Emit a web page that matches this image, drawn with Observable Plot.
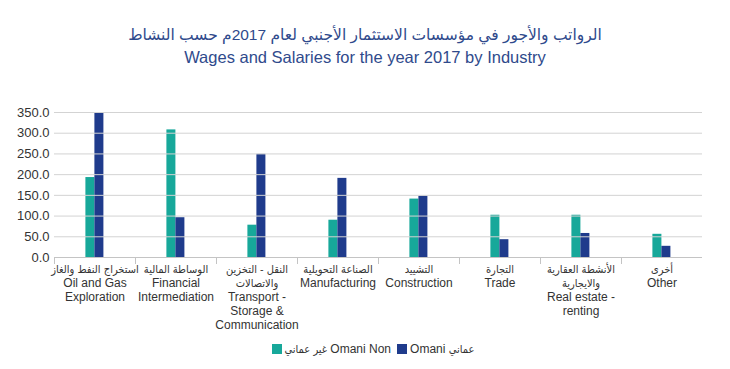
<!DOCTYPE html>
<html>
<head>
<meta charset="utf-8">
<script src="https://cdn.jsdelivr.net/npm/d3@7"></script>
<script src="https://cdn.jsdelivr.net/npm/@observablehq/plot@0.6"></script>
<style>
  body { margin:0; background:#fff; font-family:"Liberation Sans", Arial, "DejaVu Sans", sans-serif; }
  #wrap { position:relative; width:730px; height:369px; overflow:hidden; }
  .t1 { position:absolute; top:24px; left:0; width:730px; text-align:center; font-size:15.5px; line-height:22px; color:#2f4a8c; }
  .t2 { position:absolute; top:47px; left:0; width:730px; text-align:center; font-size:16.5px; line-height:20px; color:#2f4a8c; }
  #chart { position:absolute; top:80px; left:0; }
  #legend { position:absolute; top:340px; left:0; width:730px; text-align:center; font-size:12px; line-height:18px; color:#333; padding-left:22px; box-sizing:border-box; }
  .ar { font-family:"DejaVu Sans Condensed", "DejaVu Sans", sans-serif; font-size:11px; }
  .sw { display:inline-block; width:10px; height:10px; vertical-align:-1px; margin-right:3px; }
</style>
</head>
<body>
<div id="wrap">
  <div class="t1">الرواتب والأجور في مؤسسات الاستثمار الأجنبي لعام 2017م حسب النشاط</div>
  <div class="t2">Wages and Salaries for the year 2017 by Industry</div>
  <div id="chart"></div>
  <div id="legend"></div>
</div>
<script>
const categories = ["Oil and Gas Exploration","Financial Intermediation","Transport - Storage & Communication","Manufacturing","Construction","Trade","Real estate - renting","Other"];
const arLabels = ["استخراج النفط والغاز","الوساطة المالية","النقل - التخزين\nوالاتصالات","الصناعة التحويلية","التشييد","التجارة","الأنشطة العقارية\nوالايجارية","أخرى"];
const enLabels = ["Oil and Gas\nExploration","Financial\nIntermediation","Transport -\nStorage &\nCommunication","Manufacturing","Construction","Trade","Real estate -\nrenting","Other"];
const seriesNames = ["Omani Non","Omani"];
const seriesLegendAr = ["غير عماني", "عماني"];
const seriesLegendEn = ["Omani Non", "Omani"];
const nonOmani = [193, 308, 78, 90, 141, 102, 102, 56];
const omani = [350, 96, 249, 191, 148, 43, 58, 27];
const yTicks = [0, 50, 100, 150, 200, 250, 300, 350];
const colors = ["#17a89a", "#1f3b8c"];

const table = categories.flatMap((c, i) => [
  {cat: c, series: seriesNames[0], value: nonOmani[i]},
  {cat: c, series: seriesNames[1], value: omani[i]}
]);

const arFont = '"DejaVu Sans Condensed", "DejaVu Sans", sans-serif';
const enFont = '"Liberation Sans", Arial, sans-serif';

const chart = Plot.plot({
  width: 730,
  height: 260,
  marginTop: 32,
  marginBottom: 83,
  marginLeft: 52.6,
  marginRight: 27,
  style: {fontFamily: enFont, color: "#333", background: "transparent"},
  fx: {domain: categories, padding: 0, label: null, axis: null},
  x: {domain: seriesNames, paddingInner: 0, paddingOuter: 3.37, axis: null},
  y: {domain: [0, 350], label: null, axis: null},
  color: {domain: seriesNames, range: colors},
  marks: [
    Plot.barY(table, {fx: "cat", x: "series", y: "value", fill: "series"}),
    Plot.gridY(yTicks, {stroke: "#d3d3d3", strokeOpacity: 1}),
    Plot.ruleY([0], {stroke: "#c4c4c4"}),
    Plot.frame({anchor: "left", insetTop: 145, insetBottom: -6, stroke: "#c4c4c4", strokeOpacity: 1}),
    Plot.axisY(yTicks, {tickSize: 0, tickPadding: 5, tickFormat: d3.format(".1f"), fontSize: 13, label: null}),
    Plot.axisFx({anchor: "bottom", tickSize: 0, tickPadding: 6, fontSize: 11, fontFamily: arFont, lineHeight: 14 / 11, label: null,
      tickFormat: (d) => arLabels[categories.indexOf(d)]}),
    Plot.axisFx({anchor: "bottom", tickSize: 0, tickPadding: 6, fontSize: 12, fontFamily: enFont, lineHeight: 14 / 12, label: null,
      tickFormat: (d) => { const i = categories.indexOf(d); return "\u00a0\n".repeat(arLabels[i].split("\n").length) + enLabels[i]; }})
  ]
});
document.getElementById("chart").appendChild(chart);

const legend = document.getElementById("legend");
seriesNames.forEach((s, i) => {
  const sw = document.createElement("span");
  sw.className = "sw";
  sw.style.background = colors[i];
  legend.appendChild(sw);
  const wrap = document.createElement("span");
  wrap.style.marginRight = "6px";
  const ar = document.createElement("span");
  ar.className = "ar";
  ar.textContent = seriesLegendAr[i];
  const en = document.createElement("span");
  en.textContent = seriesLegendEn[i];
  if (i === 0) { wrap.appendChild(ar); wrap.appendChild(document.createTextNode(" ")); wrap.appendChild(en); }
  else { wrap.appendChild(en); wrap.appendChild(document.createTextNode(" ")); wrap.appendChild(ar); }
  legend.appendChild(wrap);
});
</script>
</body>
</html>
